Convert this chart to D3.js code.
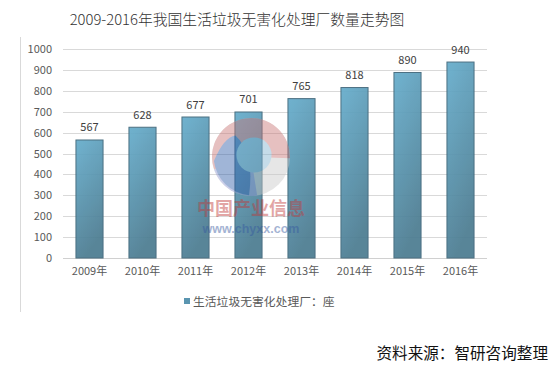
<!DOCTYPE html>
<html>
<head>
<meta charset="utf-8">
<script src="https://cdn.jsdelivr.net/npm/d3@7"></script>
<style>
  html, body { margin: 0; padding: 0; background: #fff; }
  svg { display: block; font-family: "Noto Sans CJK SC", "DejaVu Sans", sans-serif; }
</style>
</head>
<body>
<div id="chart"></div>
<script>
"use strict";

// ── Data ──────────────────────────────────────────────────────────────────────
const years  = ["2009年", "2010年", "2011年", "2012年", "2013年", "2014年", "2015年", "2016年"];
const plants = [567, 628, 677, 701, 765, 818, 890, 940];
const yTicks = [0, 100, 200, 300, 400, 500, 600, 700, 800, 900, 1000];

const title      = "2009-2016年我国生活垃圾无害化处理厂数量走势图";
const legendText = "生活垃圾无害化处理厂：座";
const sourceText = "资料来源：智研咨询整理";

// ── Layout ────────────────────────────────────────────────────────────────────
const W = 556, H = 375;
const plot = { left: 63, right: 487, top: 49, bottom: 258 };

const svg = d3.select("#chart").append("svg")
  .attr("width", W).attr("height", H);

const defs = svg.append("defs");
const grad = defs.append("linearGradient").attr("id", "barGrad")
  .attr("x1", "0%").attr("y1", "0%").attr("x2", "30%").attr("y2", "100%");
grad.append("stop").attr("offset", "0%").attr("stop-color", "#66adcc");
grad.append("stop").attr("offset", "100%").attr("stop-color", "#4c7c91");

const x = d3.scaleBand().domain(years)
  .range([plot.left, plot.right]).paddingInner(0.47).paddingOuter(0.235);
const y = d3.scaleLinear().domain([0, 1000]).range([plot.bottom, plot.top]);

// left frame line
svg.append("line")
  .attr("x1", 20.5).attr("x2", 20.5).attr("y1", 37).attr("y2", 312)
  .attr("stroke", "#d9d9d9");

// title
svg.append("text")
  .attr("x", 237).attr("y", 25)
  .attr("text-anchor", "middle")
  .attr("font-size", 14.8).attr("font-weight", 300).attr("fill", "#333")
  .text(title);

// gridlines
svg.append("g").selectAll("line").data(yTicks).join("line")
  .attr("x1", plot.left).attr("x2", plot.right)
  .attr("y1", (d) => Math.round(y(d)) + 0.5).attr("y2", (d) => Math.round(y(d)) + 0.5)
  .attr("stroke", (d) => d === 0 ? "#d0d0d0" : "#d9d9d9");

// y axis labels
const yAxis = svg.append("g").attr("transform", `translate(${plot.left - 11},0)`)
  .call(d3.axisLeft(y).tickValues(yTicks).tickFormat(d3.format("d")).tickSize(0).tickPadding(0));
yAxis.select(".domain").remove();
yAxis.selectAll("text")
  .attr("font-size", 11).attr("fill", "#595959")
  .attr("font-family", "\"Noto Sans CJK SC\", sans-serif");

// x axis labels
const xAxis = svg.append("g").attr("transform", `translate(0,${plot.bottom})`)
  .call(d3.axisBottom(x).tickSize(0).tickPadding(9));
xAxis.select(".domain").remove();
xAxis.selectAll("text")
  .attr("font-size", 11).attr("fill", "#595959")
  .attr("font-family", "\"Noto Sans CJK SC\", sans-serif");

// ── Bars ──────────────────────────────────────────────────────────────────────
const bars = svg.append("g").attr("opacity", 0.93);
bars.selectAll("rect").data(plants).join("rect")
  .attr("x", (d, i) => x(years[i]) + 0.5)
  .attr("y", (d) => y(d) + 0.5)
  .attr("width", x.bandwidth() - 1)
  .attr("height", (d) => plot.bottom - y(d) - 0.5)
  .attr("fill", "url(#barGrad)")
  .attr("stroke", "#3f6679").attr("stroke-width", 1);

// value labels
svg.append("g").selectAll("text").data(plants).join("text")
  .attr("x", (d, i) => x(years[i]) + x.bandwidth() / 2)
  .attr("y", (d) => y(d) - 8)
  .attr("text-anchor", "middle")
  .attr("font-size", 11).attr("fill", "#404040")
  .text((d) => d);

// ── Watermark (over the bars, faint) ─────────────────────────────────────────
const wm = svg.append("g").attr("opacity", 0.45);
const cx = 251, cy = 157, r = 39;
wm.append("circle").attr("cx", cx).attr("cy", cy).attr("r", r).attr("fill", "#c8c8c8");
const arc = d3.arc();
wm.append("path").attr("transform", `translate(${cx},${cy})`)
  .attr("d", arc({ innerRadius: 0, outerRadius: r, startAngle: -1.9, endAngle: 1.6 }))
  .attr("fill", "#c97575");
wm.append("path").attr("transform", `translate(${cx},${cy})`)
  .attr("d", arc({ innerRadius: 0, outerRadius: r, startAngle: -3.3, endAngle: -1.9 }))
  .attr("fill", "#8f97d0");
wm.append("path").attr("transform", `translate(${cx},${cy})`)
  .attr("d", `M${-r * 0.4},${-r * 0.55} Q${r * 0.1},${-r * 0.1} ${-r * 0.05},${r * 0.98}
              A${r},${r} 0 0 1 ${-r * 0.95},${r * 0.1} Q${-r * 0.7},${-r * 0.5} ${-r * 0.4},${-r * 0.55} Z`)
  .attr("fill", "#2f5ca8");
wm.append("circle").attr("cx", cx + 3).attr("cy", cy - 2).attr("r", r * 0.45).attr("fill", "#7fb3d0");
wm.append("text").attr("x", cx).attr("y", 215).attr("text-anchor", "middle")
  .attr("font-size", 18).attr("font-weight", "bold").attr("fill", "#c03a3a")
  .text("中国产业信息");
wm.append("text").attr("x", cx).attr("y", 233).attr("text-anchor", "middle")
  .attr("font-size", 12.5).attr("font-weight", "bold").attr("fill", "#3558a0")
  .attr("font-family", "\"Liberation Sans\", sans-serif")
  .text("www.chyxx.com");

// ── Legend ────────────────────────────────────────────────────────────────────
svg.append("rect").attr("x", 184).attr("y", 298).attr("width", 6).attr("height", 6)
  .attr("fill", "#5a95b0");
svg.append("text").attr("x", 193).attr("y", 305.5)
  .attr("font-size", 11.8).attr("fill", "#595959")
  .text(legendText);

// ── Source ────────────────────────────────────────────────────────────────────
svg.append("text").attr("x", 548).attr("y", 359)
  .attr("text-anchor", "end")
  .attr("font-size", 15.6).attr("fill", "#111")
  .text(sourceText);
</script>
</body>
</html>
